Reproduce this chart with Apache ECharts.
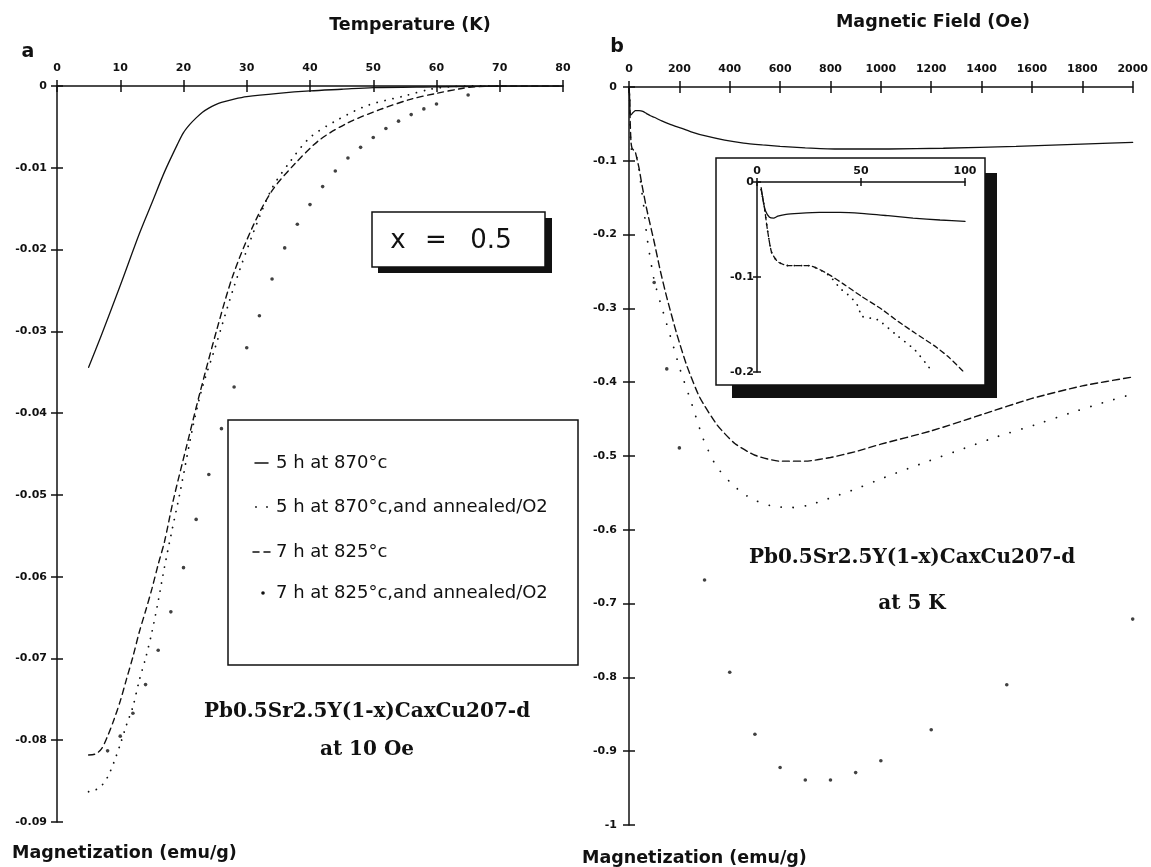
<!DOCTYPE html>
<html><head><meta charset="utf-8">
<script src="https://cdn.jsdelivr.net/npm/echarts@6/dist/echarts.min.js"></script>
<style>html,body{margin:0;padding:0;background:#fff}#c{width:1151px;height:867px}</style>
</head><body><div id="c"></div>
<script>
// ---------- tick labels ----------
const tempTicks = ['0','10','20','30','40','50','60','70','80'];
const magATicks = ['-0.09','-0.08','-0.07','-0.06','-0.05','-0.04','-0.03','-0.02','-0.01','0'];
const fieldTicks = ['0','200','400','600','800','1000','1200','1400','1600','1800','2000'];
const magBTicks = ['-1','-0.9','-0.8','-0.7','-0.6','-0.5','-0.4','-0.3','-0.2','-0.1','0'];
const insetFieldTicks = ['0','50','100'];
const insetMagTicks = ['-0.2','-0.1','0'];

const seriesNames = ['5 h at 870°c','5 h at 870°c,and annealed/O2','7 h at 825°c','7 h at 825°c,and annealed/O2'];

// ---------- panel a : M vs T at 10 Oe ----------
const aT1 = [5,7,10,13,15,17,19,20,21,22,23,24,25,26,28,30,35,40,45,50,60,70,80];
const aM1 = [-0.0344,-0.0305,-0.0244,-0.0181,-0.0143,-0.0105,-0.0072,-0.0057,-0.0047,-0.0039,-0.0032,-0.0027,-0.0023,-0.0020,-0.0016,-0.0013,-0.0009,-0.0006,-0.0004,-0.0002,-0.0001,0,0];
const aT2 = [5,6,7,8,9,10,11,12,13,14,15,16,17,18,19.5,21.5,23,25,28,31,34,37,40,44,49,55,59,62,65,70];
const aM2 = [-0.0863,-0.0861,-0.0856,-0.0845,-0.0827,-0.0805,-0.0781,-0.0759,-0.0727,-0.0700,-0.0668,-0.0630,-0.0588,-0.0550,-0.0495,-0.0416,-0.0368,-0.0320,-0.0245,-0.0180,-0.0125,-0.0091,-0.0063,-0.0043,-0.0024,-0.0012,-0.0004,-0.0001,0,0];
const aT3 = [5,6,7,8,9,10,11,12,13,14,15,16,17,18.4,20.5,22.6,25.3,27.8,31,34,37.5,41.5,46,51,56,60,64,66,70,80];
const aM3 = [-0.0818,-0.0817,-0.0811,-0.0795,-0.0775,-0.0752,-0.0725,-0.0698,-0.0668,-0.0642,-0.0615,-0.0585,-0.0557,-0.0506,-0.0440,-0.0375,-0.0297,-0.0232,-0.0171,-0.0128,-0.0096,-0.0066,-0.0045,-0.0029,-0.0016,-0.0009,-0.0003,-0.0001,0,0];
const aT4 = [8,10,12,14,16,18,20,22,24,26,28,30,32,34,36,38,40,42,44,46,48,50,52,54,56,58,60,65];
const aM4 = [-0.0813,-0.0795,-0.0767,-0.0732,-0.0690,-0.0643,-0.0589,-0.0530,-0.0475,-0.0419,-0.0368,-0.0320,-0.0281,-0.0236,-0.0198,-0.0169,-0.0145,-0.0123,-0.0104,-0.0088,-0.0075,-0.0063,-0.0052,-0.0043,-0.0035,-0.0028,-0.0022,-0.0011];

// ---------- panel b : M vs H at 5 K ----------
const bH1 = [0,2,4,6,10,15,25,40,55,70,85,100,130,166,210,250,300,380,455,530,600,700,816,1032,1248,1537,1825,2000];
const bM1 = [-0.002,-0.010,-0.034,-0.038,-0.037,-0.035,-0.032,-0.032,-0.033,-0.036,-0.039,-0.041,-0.046,-0.051,-0.056,-0.061,-0.066,-0.072,-0.076,-0.0785,-0.0805,-0.0825,-0.084,-0.084,-0.083,-0.0805,-0.077,-0.075];
const bH2 = [0,2,4,6,10,15,25,30,40,50,55,70,100,140,175,205,245,295,345,400,450,500,570,640,710,790,890,1030,1180,1320,1460,1610,1750,1880,2000];
const bM2 = [-0.002,-0.01,-0.04,-0.07,-0.085,-0.088,-0.088,-0.094,-0.112,-0.141,-0.150,-0.200,-0.262,-0.310,-0.350,-0.385,-0.425,-0.477,-0.513,-0.535,-0.550,-0.560,-0.568,-0.570,-0.567,-0.558,-0.546,-0.527,-0.508,-0.491,-0.474,-0.458,-0.442,-0.428,-0.416];
const bH3 = [0,2,5,8,12,20,25,30,40,50,70,100,125,150,190,230,280,350,420,500,600,700,800,900,1000,1200,1400,1600,1800,2000];
const bM3 = [-0.002,-0.01,-0.05,-0.075,-0.083,-0.086,-0.088,-0.095,-0.11,-0.13,-0.165,-0.21,-0.25,-0.285,-0.335,-0.378,-0.42,-0.458,-0.483,-0.499,-0.507,-0.507,-0.502,-0.494,-0.484,-0.466,-0.444,-0.422,-0.405,-0.393];
const bH4 = [100,150,200,300,400,500,600,700,800,900,1000,1200,1500,2000];
const bM4 = [-0.265,-0.382,-0.489,-0.668,-0.793,-0.877,-0.922,-0.939,-0.939,-0.929,-0.913,-0.871,-0.810,-0.721];

// ---------- inset : low field part ----------
const iH1 = [2,3,4,6,8,10,14,20,30,40,50,63,75,88,100];
const iM1 = [-0.006,-0.02,-0.03,-0.037,-0.038,-0.036,-0.034,-0.033,-0.032,-0.032,-0.033,-0.0355,-0.038,-0.040,-0.0415];
const iH2 = [2,3.5,5,7,10,15,20,25,30,35,42,50,60,68,76,85,92,99];
const iM2 = [-0.008,-0.026,-0.05,-0.074,-0.084,-0.088,-0.088,-0.088,-0.092,-0.098,-0.108,-0.120,-0.134,-0.147,-0.159,-0.172,-0.184,-0.199];
const iH3 = [2,3.5,5,7,10,15,20,25,30,35,40,45,49,50,58,67,76,83];
const iM3 = [-0.008,-0.026,-0.05,-0.074,-0.084,-0.088,-0.088,-0.088,-0.092,-0.099,-0.112,-0.121,-0.132,-0.141,-0.145,-0.161,-0.177,-0.196];

// ---------- helpers ----------
const INK = '#111';
const FONT = '"DejaVu Sans", sans-serif';
const SERIF = '"DejaVu Serif", serif';
function pair(xs, ys){ return xs.map((x,i)=>[x, ys[i]]); }
function axisPair(grid, pos, min, max, interval, labels, tick, margin, fs){
  const base = {type:'value', gridIndex:grid, position:pos, min, max, interval, splitLine:{show:false}};
  const main = Object.assign({}, base, {
    axisLine:{show:true, onZero:false, lineStyle:{color:INK, width:1.5}},
    axisTick:{show:true, inside:false, length:tick, lineStyle:{color:INK, width:1.5}},
    axisLabel:{show:true, margin, color:INK, fontSize:fs, fontWeight:'bold', fontFamily:FONT,
      formatter:(v)=>labels[Math.round((v-min)/interval)]}
  });
  const inner = Object.assign({}, base, {
    axisLine:{show:false, onZero:false},
    axisTick:{show:true, inside:true, length:tick, lineStyle:{color:INK, width:1.5}},
    axisLabel:{show:false}
  });
  return [main, inner];
}
function line(name, xs, ys, ai, type, width, smooth){
  return {type:'line', name, xAxisIndex:ai, yAxisIndex:ai, data:pair(xs,ys), symbol:'none', showSymbol:false,
    smooth:smooth, silent:true, z:3,
    lineStyle:{color:INK, width, type, cap:'round'}, itemStyle:{color:INK}};
}
function dots(name, xs, ys, ai){
  return {type:'scatter', name, xAxisIndex:ai, yAxisIndex:ai, data:pair(xs,ys), symbol:'circle', symbolSize:3.6,
    silent:true, z:3, itemStyle:{color:INK}};
}

const xa = [].concat(
  axisPair(0,'top',0,80,10,tempTicks,6,12,11),
  axisPair(1,'top',0,2000,200,fieldTicks,6,12,11),
  axisPair(2,'top',0,100,50,insetFieldTicks,4,5,11)
);
const ya = [].concat(
  axisPair(0,'left',-0.09,0,0.01,magATicks,6,10,11),
  axisPair(1,'left',-1,0,0.1,magBTicks,6,12,11),
  axisPair(2,'left',-0.2,0,0.1,insetMagTicks,4,3,11)
);

function txt(x, y, text, font, align){
  return {type:'text', x, y, z:20, style:{text, font, fill:INK, align:align||'center', verticalAlign:'middle'}};
}
function seg(x1, y1, x2, y2, dash){
  return {type:'line', z:20, shape:{x1, y1, x2, y2}, style:{stroke:INK, lineWidth:1.5, lineDash:dash||null, lineCap:'round'}};
}
function dot(x, y, r){
  return {type:'circle', z:20, shape:{cx:x, cy:y, r:r}, style:{fill:INK}};
}
// legend rows (the legend frame and symbols)
const legY = [463, 507, 552, 593];
const legend = [
  {type:'rect', z:-1, shape:{x:228, y:420, width:350, height:245}, style:{fill:'none', stroke:INK, lineWidth:1.5}},
  seg(255, legY[0], 268, legY[0]),
  dot(256, legY[1], 0.9), dot(267, legY[1], 0.9),
  seg(253, legY[2], 259, legY[2]), seg(264, legY[2], 270, legY[2]),
  dot(263, legY[3], 1.8)
].concat(seriesNames.map((n, i) => txt(276, legY[i], n, '18px ' + FONT, 'left')));

const option = {
  backgroundColor:'#fff',
  animation:false,
  grid:[
    {left:57, top:86, width:506, height:736},
    {left:629, top:87, width:505, height:738},
    {left:757, top:182, width:208, height:190}
  ],
  xAxis: xa,
  yAxis: ya,
  series:[
    line(seriesNames[0], aT1, aM1, 0, 'solid', 1.3, 0.3),
    line(seriesNames[1], aT2, aM2, 0, [0.1, 8], 1.8, 0.3),
    line(seriesNames[2], aT3, aM3, 0, [6, 4.5], 1.4, 0.3),
    dots(seriesNames[3], aT4, aM4, 0),
    line(seriesNames[0], bH1, bM1, 2, 'solid', 1.3, 0.2),
    line(seriesNames[1], bH2, bM2, 2, [0.1, 12], 1.8, 0.2),
    line(seriesNames[2], bH3, bM3, 2, [7, 4], 1.4, 0.2),
    dots(seriesNames[3], bH4, bM4, 2),
    line(seriesNames[0], iH1, iM1, 4, 'solid', 1.3, 0.2),
    line(seriesNames[1], iH3, iM3, 4, [0.1, 7], 1.8, 0.2),
    line(seriesNames[2], iH2, iM2, 4, [5, 3.5], 1.3, 0.2)
  ],
  graphic:[
    // x = 0.5 box with shadow
    {type:'rect', z:-2, shape:{x:378, y:218, width:174, height:55}, style:{fill:INK}},
    {type:'rect', z:-1, shape:{x:372, y:212, width:173, height:55}, style:{fill:'#fff', stroke:INK, lineWidth:1.5}},
    txt(398, 241, 'x', '26px ' + FONT),
    txt(436, 241, '=', '26px ' + FONT),
    txt(491, 241, '0.5', '26px ' + FONT),
    // inset box with shadow
    {type:'rect', z:-2, shape:{x:732, y:173, width:265, height:225}, style:{fill:INK}},
    {type:'rect', z:-1, shape:{x:716, y:158, width:269, height:227}, style:{fill:'#fff', stroke:INK, lineWidth:1.5}},
    // titles
    txt(410, 25, 'Temperature (K)', 'bold 17.5px ' + FONT),
    txt(933, 22, 'Magnetic Field (Oe)', 'bold 17.5px ' + FONT),
    txt(28, 52, 'a', 'bold 19px ' + FONT),
    txt(617, 47, 'b', 'bold 19px ' + FONT),
    txt(12, 853, 'Magnetization (emu/g)', 'bold 17.5px ' + FONT, 'left'),
    txt(582, 858, 'Magnetization (emu/g)', 'bold 17.5px ' + FONT, 'left'),
    // annotations
    txt(367, 712, 'Pb0.5Sr2.5Y(1-x)CaxCu207-d', 'bold 20px ' + SERIF),
    txt(367, 750, 'at 10 Oe', 'bold 20px ' + SERIF),
    txt(912, 558, 'Pb0.5Sr2.5Y(1-x)CaxCu207-d', 'bold 20px ' + SERIF),
    txt(912, 604, 'at 5 K', 'bold 20px ' + SERIF)
  ].concat(legend)
};
const chart = echarts.init(document.getElementById('c'), null, {renderer:'canvas'});
chart.setOption(option);
</script></body></html>
